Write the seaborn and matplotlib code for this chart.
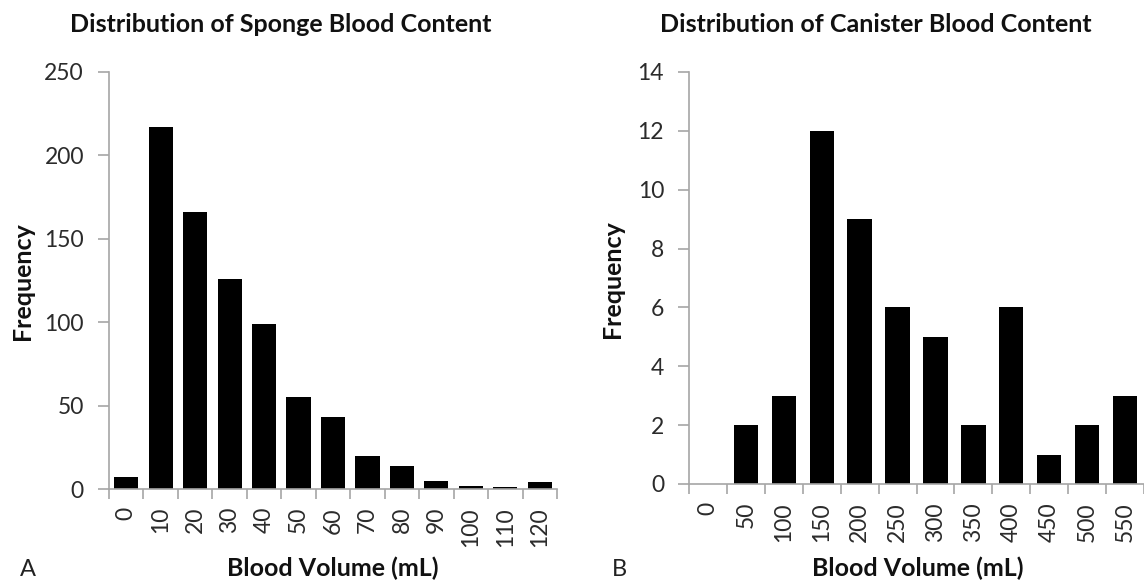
import numpy as np
import pandas as pd
import matplotlib
matplotlib.use("Agg")
import matplotlib.pyplot as plt
import seaborn as sns

# ---- data ----
sponge_bins = ["0", "10", "20", "30", "40", "50", "60", "70", "80", "90", "100", "110", "120"]
sponge_freq = [7, 217, 166, 126, 99, 55, 43, 20, 14, 5, 2, 1, 4]

canister_bins = ["0", "50", "100", "150", "200", "250", "300", "350", "400", "450", "500", "550"]
canister_freq = [0, 2, 3, 12, 9, 6, 5, 2, 6, 1, 2, 3]

sponge_yticks = [0, 50, 100, 150, 200, 250]
canister_yticks = [0, 2, 4, 6, 8, 10, 12, 14]

sns.set_theme(style="white")
plt.rcParams["font.family"] = ["Lato", "DejaVu Sans"]

W, H = 1144, 584
fig = plt.figure(figsize=(W / 100, H / 100), dpi=100)

def px_axes(x0, y0, x1, y1):
    return fig.add_axes([x0 / W, 1 - y1 / H, (x1 - x0) / W, (y1 - y0) / H])

def ftext(x, y, s, **kw):
    fig.text(x / W, 1 - y / H, s, **kw)

spine_col = "#a6a6a6"
tick_col = "#2b2b2b"
tick_fs = 16.5

def style(ax, cats, vals, yticks, width):
    df = pd.DataFrame({"bin": cats, "freq": vals})
    sns.barplot(data=df, x="bin", y="freq", order=cats, color="black",
                width=width, linewidth=0, saturation=1, ax=ax)
    n = len(cats)
    ax.set_xlim(-0.5, n - 0.5)
    ax.set_ylim(yticks[0], yticks[-1])
    ax.set_yticks(yticks)
    ax.set_yticklabels([str(t) for t in yticks])
    ax.set_xticks(np.arange(n))
    ax.set_xticklabels(cats, rotation=90)
    ax.set_xticks(np.arange(n + 1) - 0.5, minor=True)
    ax.tick_params(axis="x", which="major", length=0, pad=13,
                   labelsize=tick_fs, labelcolor=tick_col)
    ax.tick_params(axis="x", which="minor", length=7, width=1.2,
                   color=spine_col, direction="out", bottom=True)
    ax.tick_params(axis="y", which="major", length=8, width=1.2,
                   color=spine_col, direction="out", left=True, pad=10,
                   labelsize=tick_fs, labelcolor=tick_col)
    for s in ["top", "right"]:
        ax.spines[s].set_visible(False)
    for s in ["left", "bottom"]:
        ax.spines[s].set_color(spine_col)
        ax.spines[s].set_linewidth(1.2)
    ax.set_xlabel("")
    ax.set_ylabel("")
    ax.grid(False)

axA = px_axes(109, 72, 557, 489)
style(axA, sponge_bins, sponge_freq, sponge_yticks, 0.70)

axB = px_axes(689, 72, 1144, 484)
style(axB, canister_bins, canister_freq, canister_yticks, 0.64)

title_fs = 18
lab_fs = 18
ftext(70, 24, "Distribution of Sponge Blood Content", ha="left", va="center",
      fontsize=title_fs, fontweight="bold", color="#111111")
ftext(660, 24, "Distribution of Canister Blood Content", ha="left", va="center",
      fontsize=title_fs, fontweight="bold", color="#111111")

ftext(22, 281, "Frequency", rotation=90, ha="center", va="center",
      fontsize=lab_fs, fontweight="bold", color="#111111")
ftext(612, 279, "Frequency", rotation=90, ha="center", va="center",
      fontsize=lab_fs, fontweight="bold", color="#111111")

ftext(333, 568, "Blood Volume (mL)", ha="center", va="center",
      fontsize=lab_fs, fontweight="bold", color="#111111")
ftext(918, 568, "Blood Volume (mL)", ha="center", va="center",
      fontsize=lab_fs, fontweight="bold", color="#111111")

ftext(20, 570, "A", ha="left", va="center", fontsize=17, color="#222222")
ftext(612, 570, "B", ha="left", va="center", fontsize=17, color="#222222")

fig.savefig("out.png", dpi=100, facecolor="white")
